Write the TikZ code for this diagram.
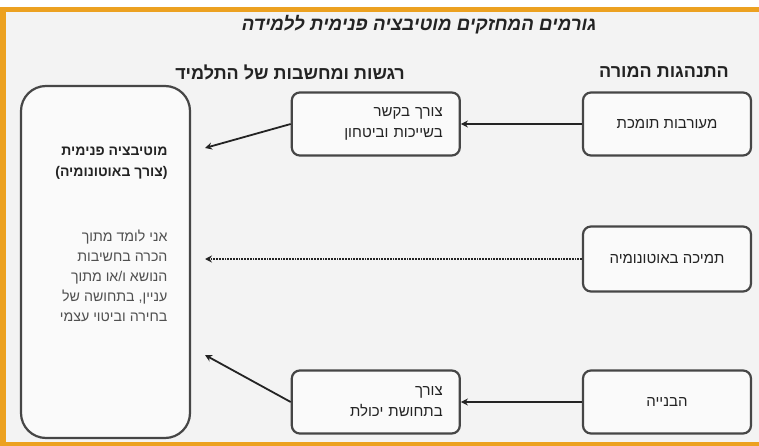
\documentclass[tikz,border=0pt]{standalone}
\usepackage{fontspec}
\setmainfont{Liberation Sans}
\newfontfamily\hebfont[Script=Hebrew]{Liberation Sans}
\TeXXeTstate=1
\usepackage{tikz}
\usetikzlibrary{arrows.meta}
\usetikzlibrary{positioning}

\definecolor{frameorange}{RGB}{236,161,32}
\definecolor{panelgray}{RGB}{243,243,243}
\definecolor{edgegray}{RGB}{70,70,70}
\definecolor{inkgray}{RGB}{35,35,35}
\definecolor{softgray}{RGB}{80,80,80}

\newcommand{\hebline}[1]{\beginR #1\endR}

\tikzset{
    factor/.style = {draw=edgegray, line width=2.2pt, rounded corners=8pt, fill=white!55!panelgray,
        minimum width=168pt, minimum height=63pt, text=inkgray, font=\hebfont\fontsize{15}{21}\selectfont},
    link/.style = {draw=inkgray, line width=1.8pt, arrows = {-Stealth[width=7pt, length=7pt]}},
    heading/.style = {text=inkgray, font=\hebfont\bfseries\fontsize{18}{21}\selectfont}
}

\begin{document}
\begin{tikzpicture}[x=1pt, y=-1pt]
    \useasboundingbox (0, 0) rectangle (759, 446);
    \fill[white] (0, 0) rectangle (759, 7);
    \fill[panelgray] (0, 7) rectangle (759, 446);
    \fill[frameorange] (0, 7) rectangle (759, 12);
    \fill[frameorange] (0, 7) rectangle (6, 446);
    \fill[frameorange] (0, 442) rectangle (759, 446);

    \node[heading, font=\hebfont\bfseries\itshape\fontsize{18.7}{21}\selectfont] (title) at (419, 25) {\hebline{גורמים המחזקים מוטיבציה פנימית ללמידה}};
    \node[heading] (student) at (290, 72) {\hebline{רגשות ומחשבות של התלמיד}};
    \node[heading] (teacher) at (664, 72) {\hebline{התנהגות המורה}};

    % teacher behaviour
    \node[factor, align=center] (support) at (667, 124) {\hebline{מעורבות תומכת}};
    \node[factor, align=center, minimum height=65pt] (autonomy) at (667, 259) {\hebline{תמיכה באוטונומיה}};
    \node[factor, align=center] (structure) at (667, 402) {\hebline{הבנייה}};

    % student needs
    \node[factor, align=right, text width=134pt, left=121pt of support] (belong) {\hebline{צורך בקשר}\\\hebline{בשייכות וביטחון}};
    \node[factor, align=right, text width=134pt, left=121pt of structure] (competence) {\hebline{צורך}\\\hebline{בתחושת יכולת}};

    % inner motivation
    \node[draw=edgegray, line width=2.2pt, rounded corners=25pt, fill=white!55!panelgray,
        minimum width=169pt, minimum height=352pt] (motiv) at (105.5, 262) {};
    \node[anchor=north east, align=right, text=inkgray, font=\hebfont\bfseries\fontsize{14}{21}\selectfont] (motivhead) at (171, 143) {\hebline{מוטיבציה פנימית}\\\hebline{(צורך באוטונומיה)}};
    \node[anchor=north east, align=right, text=softgray, font=\hebfont\fontsize{14.2}{20}\selectfont] (motivbody) at (171, 226) {\hebline{אני לומד מתוך}\\\hebline{הכרה בחשיבות}\\\hebline{הנושא ו/או מתוך}\\\hebline{עניין, בתחושה של}\\\hebline{בחירה וביטוי עצמי}};

    \coordinate (inTop) at (205, 148);
    \coordinate (inMid) at (205, 259);
    \coordinate (inLow) at (205, 355);

    \draw[link] (support) -- (belong);
    \draw[link] (belong.west) -- (inTop);
    \draw[link, densely dotted] (autonomy) -- (inMid);
    \draw[link] (structure) -- (competence);
    \draw[link] (competence.west) -- (inLow);
\end{tikzpicture}
\end{document}
